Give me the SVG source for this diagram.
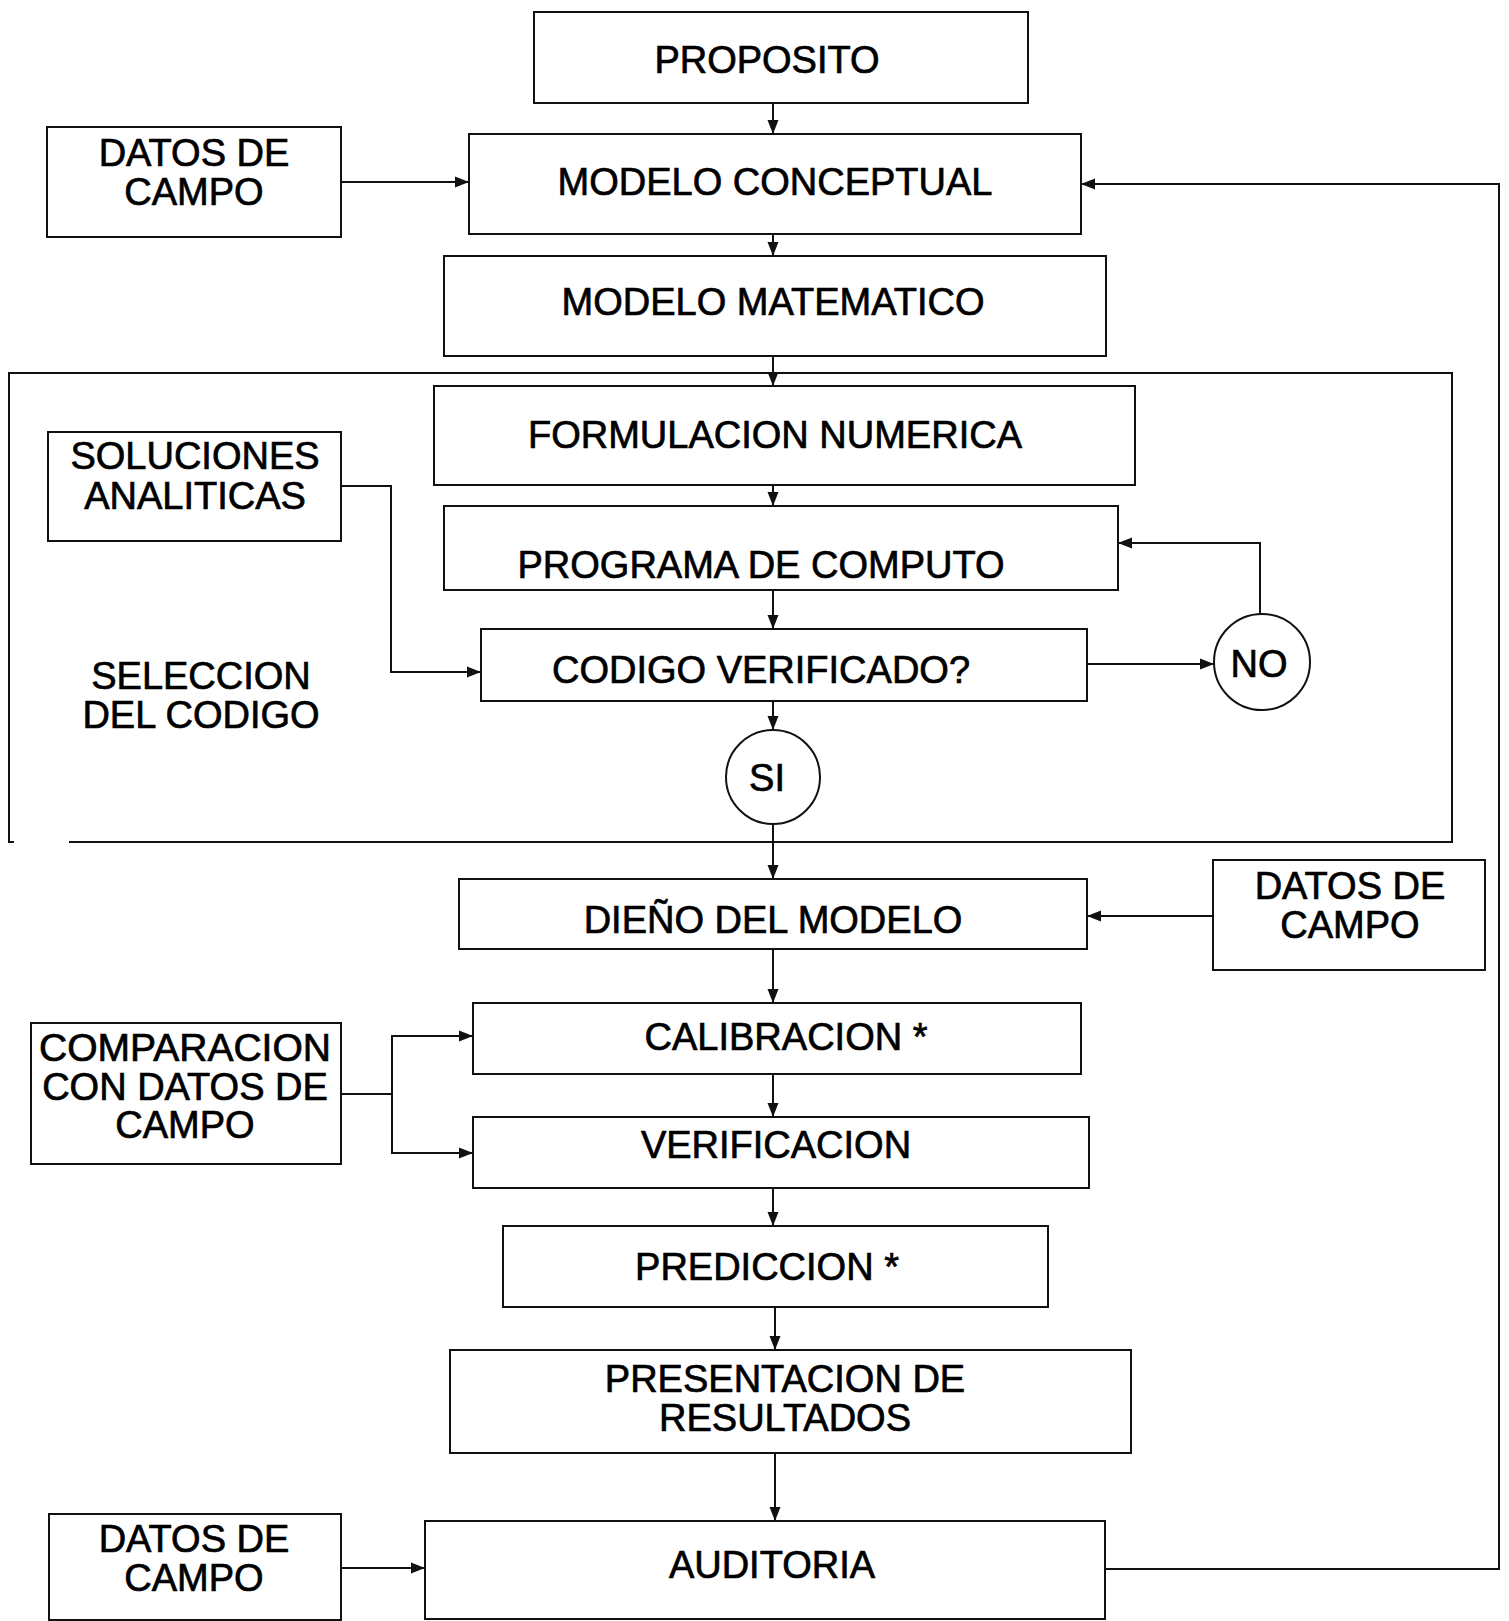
<svg xmlns="http://www.w3.org/2000/svg" width="1509" height="1621" viewBox="0 0 1509 1621">
<style>
.box{fill:#fff;stroke:#111;stroke-width:2}
.frame{fill:none;stroke:#111;stroke-width:2}
.c{fill:none;stroke:#111;stroke-width:2}
.t{font-family:"Liberation Sans",Arial,sans-serif;font-size:38px;text-anchor:middle;fill:#000;stroke:#000;stroke-width:0.7}
</style>
<defs>
<marker id="ah" markerUnits="userSpaceOnUse" markerWidth="14" markerHeight="14" viewBox="0 0 14 14" refX="14" refY="7" orient="auto">
<path d="M0,1.5 L14,7 L0,12.5 z" fill="#111"/>
</marker>
</defs>
<rect width="1509" height="1621" fill="#fff"/>
<g id="seleccion">
<path class="frame" d="M69,842 H1452 V373 H9 V842 H14"/>
<text class="t" x="201" y="689">SELECCION</text>
<text class="t" x="201" y="728">DEL CODIGO</text>
</g>
<g id="proposito"><rect class="box" x="534" y="12" width="494" height="91"/><text class="t" x="767" y="73">PROPOSITO</text></g>
<g id="datos1"><rect class="box" x="47" y="127" width="294" height="110"/><text class="t" x="194" y="166">DATOS DE</text><text class="t" x="194" y="205">CAMPO</text></g>
<g id="modelo_conceptual"><rect class="box" x="469" y="134" width="612" height="100"/><text class="t" x="775" y="195">MODELO CONCEPTUAL</text></g>
<g id="modelo_matematico"><rect class="box" x="444" y="256" width="662" height="100"/><text class="t" x="773" y="315">MODELO MATEMATICO</text></g>
<g id="formulacion"><rect class="box" x="434" y="386" width="701" height="99"/><text class="t" x="775" y="448">FORMULACION NUMERICA</text></g>
<g id="programa"><rect class="box" x="444" y="506" width="674" height="84"/><text class="t" x="761" y="578">PROGRAMA DE COMPUTO</text></g>
<g id="codigo"><rect class="box" x="481" y="629" width="606" height="72"/><text class="t" x="761" y="683">CODIGO VERIFICADO?</text></g>
<g id="soluciones"><rect class="box" x="48" y="432" width="293" height="109"/><text class="t" x="195" y="469">SOLUCIONES</text><text class="t" x="195" y="509">ANALITICAS</text></g>
<g id="no"><circle class="box" cx="1262" cy="662" r="48"/><text class="t" x="1259" y="677">NO</text></g>
<g id="si"><circle class="box" cx="773" cy="777" r="47"/><text class="t" x="767" y="791">SI</text></g>
<g id="diseno"><rect class="box" x="459" y="879" width="628" height="70"/><text class="t" x="773" y="933">DIEÑO DEL MODELO</text></g>
<g id="datos2"><rect class="box" x="1213" y="860" width="272" height="110"/><text class="t" x="1350" y="899">DATOS DE</text><text class="t" x="1350" y="938">CAMPO</text></g>
<g id="calibracion"><rect class="box" x="473" y="1003" width="608" height="71"/><text class="t" x="786" y="1050">CALIBRACION *</text></g>
<g id="comparacion"><rect class="box" x="31" y="1023" width="310" height="141"/><text class="t" x="185" y="1061" textLength="292" lengthAdjust="spacingAndGlyphs">COMPARACION</text><text class="t" x="185" y="1100">CON DATOS DE</text><text class="t" x="185" y="1138">CAMPO</text></g>
<g id="verificacion"><rect class="box" x="473" y="1117" width="616" height="71"/><text class="t" x="776" y="1158">VERIFICACION</text></g>
<g id="prediccion"><rect class="box" x="503" y="1226" width="545" height="81"/><text class="t" x="767" y="1280">PREDICCION *</text></g>
<g id="presentacion"><rect class="box" x="450" y="1350" width="681" height="103"/><text class="t" x="785" y="1392">PRESENTACION DE</text><text class="t" x="785" y="1431">RESULTADOS</text></g>
<g id="auditoria"><rect class="box" x="425" y="1521" width="680" height="98"/><text class="t" x="772" y="1578">AUDITORIA</text></g>
<g id="datos3"><rect class="box" x="49" y="1514" width="292" height="106"/><text class="t" x="194" y="1552">DATOS DE</text><text class="t" x="194" y="1591">CAMPO</text></g>
<g id="connectors">
<path class="c" marker-end="url(#ah)" d="M773,103 V134"/>
<path class="c" marker-end="url(#ah)" d="M341,182 H469"/>
<path class="c" marker-end="url(#ah)" d="M773,234 V256"/>
<path class="c" marker-end="url(#ah)" d="M773,356 V386"/>
<path class="c" marker-end="url(#ah)" d="M773,485 V506"/>
<path class="c" marker-end="url(#ah)" d="M773,590 V629"/>
<path class="c" marker-end="url(#ah)" d="M341,486 H391 V672 H481"/>
<path class="c" marker-end="url(#ah)" d="M1087,664 H1214"/>
<path class="c" marker-end="url(#ah)" d="M1260,614 V543 H1118"/>
<path class="c" marker-end="url(#ah)" d="M773,701 V730"/>
<path class="c" marker-end="url(#ah)" d="M773,824 V879"/>
<path class="c" marker-end="url(#ah)" d="M1213,916 H1087"/>
<path class="c" marker-end="url(#ah)" d="M773,949 V1003"/>
<path class="c" d="M341,1094 H392"/>
<path class="c" marker-end="url(#ah)" d="M392,1094 V1036 H473"/>
<path class="c" marker-end="url(#ah)" d="M392,1094 V1153 H473"/>
<path class="c" marker-end="url(#ah)" d="M773,1074 V1117"/>
<path class="c" marker-end="url(#ah)" d="M773,1188 V1226"/>
<path class="c" marker-end="url(#ah)" d="M775,1307 V1350"/>
<path class="c" marker-end="url(#ah)" d="M775,1453 V1521"/>
<path class="c" marker-end="url(#ah)" d="M341,1568 H425"/>
<path class="c" marker-end="url(#ah)" d="M1105,1569 H1499 V184 H1081"/>
</g>
</svg>
